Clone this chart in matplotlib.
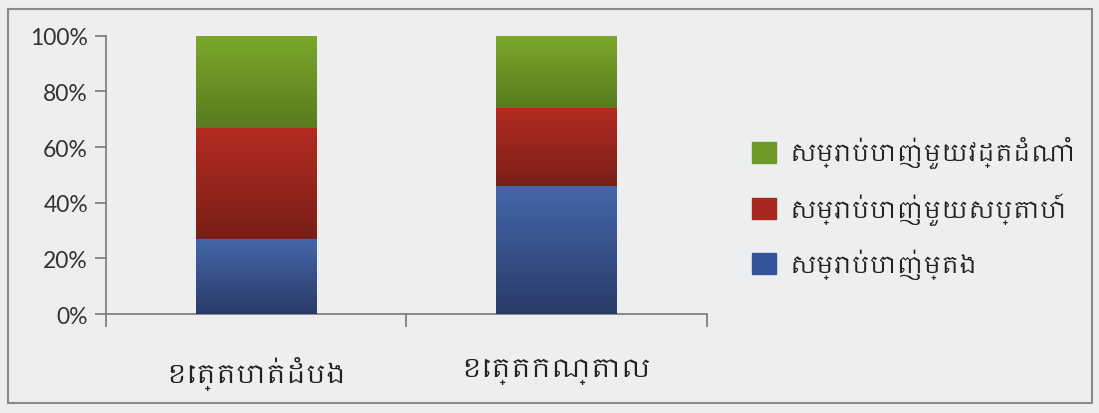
import numpy as np
import matplotlib
matplotlib.use("Agg")
import matplotlib.pyplot as plt
from matplotlib import font_manager
from matplotlib.patches import Rectangle
from matplotlib.colors import LinearSegmentedColormap
from matplotlib.ticker import PercentFormatter

# Data: share of farmers by pesticide spraying frequency, per province
provinces = ["ខេត្តបាត់ដំបង", "ខេត្តកណ្តាល"]
series_labels = ["សម្រាប់បាញ់ម្តង", "សម្រាប់បាញ់មួយសប្តាហ៍", "សម្រាប់បាញ់មួយវដ្តដំណាំ"]
spray_once = [27, 46]
spray_weekly = [40, 28]
spray_per_cycle = [33, 26]
y_ticks = [0, 20, 40, 60, 80, 100]

# Khmer-capable font if one is available, else fall back
khmer_fonts = [f.name for f in font_manager.fontManager.ttflist if "khmer" in f.name.lower()]
text_family = khmer_fonts[:1] + ["Noto Sans", "DejaVu Sans"]

# (top colour, bottom colour) for each stacked series
colours = [("#4467ab", "#2a3b68"), ("#b32b21", "#7a1f17"), ("#7ba82b", "#597b1e")]
legend_colours = ["#35549a", "#a8281f", "#6f9a28"]

fig = plt.figure(figsize=(10.99, 4.14), dpi=100, facecolor="#eceef0")
ax = fig.add_axes([0.0965, 0.239, 0.5465, 0.672])
ax.set_facecolor("#eceef0")

x = np.arange(len(provinces))
bottom = np.zeros(len(provinces))
bar_width = 0.4
for vals, (top_c, bot_c), label in zip([spray_once, spray_weekly, spray_per_cycle],
                                       colours, series_labels):
    bars = ax.bar(x, vals, bar_width, bottom=bottom, color=bot_c, label=label, zorder=2)
    cmap = LinearSegmentedColormap.from_list("grad", [bot_c, top_c])
    grad = np.linspace(0, 1, 64).reshape(-1, 1)
    for patch in bars:
        x0, y0 = patch.get_x(), patch.get_y()
        w, h = patch.get_width(), patch.get_height()
        im = ax.imshow(grad, cmap=cmap, origin="lower", aspect="auto",
                       extent=(x0, x0 + w, y0, y0 + h), zorder=3, interpolation="bilinear")
        im.set_clip_path(patch)
    bottom += np.array(vals)

ax.set_xlim(-0.5, len(provinces) - 0.5)
ax.set_ylim(0, 100)
ax.set_yticks(y_ticks)
ax.yaxis.set_major_formatter(PercentFormatter(decimals=0))

# category boundary ticks on the x axis
ax.set_xticks(np.arange(-0.5, len(provinces)), minor=False)
ax.set_xticklabels([])
ax.set_xticks(x, minor=True)
ax.set_xticklabels(provinces, minor=True, fontsize=19, family=text_family, color="#222222")
ax.tick_params(axis="x", which="minor", length=0, pad=30)
ax.tick_params(axis="x", which="major", length=9, color="#777777", width=1.2)
ax.tick_params(axis="y", length=8, color="#777777", width=1.2, labelsize=16.5,
               labelcolor="#333333", pad=5)
for lbl in ax.get_yticklabels():
    lbl.set_family(["Lato", "DejaVu Sans"])

for side in ["top", "right"]:
    ax.spines[side].set_visible(False)
for side in ["left", "bottom"]:
    ax.spines[side].set_color("#777777")
    ax.spines[side].set_linewidth(1.2)

handles = [Rectangle((0, 0), 1, 1, color=c) for c in legend_colours][::-1]
leg = fig.legend(handles, series_labels[::-1], loc="upper left",
                 bbox_to_anchor=(0.665, 0.72), frameon=False,
                 prop={"family": text_family, "size": 17},
                 handlelength=1.0, handleheight=1.0, handletextpad=0.6,
                 labelspacing=1.0)
for t in leg.get_texts():
    t.set_color("#222222")

# outer frame round the chart
fig.add_artist(Rectangle((8 / 1099, 10 / 414), 1084 / 1099, 394 / 414,
                         transform=fig.transFigure, fill=False,
                         edgecolor="#8a8a8a", linewidth=1.5))

fig.savefig("out.png", dpi=100, facecolor=fig.get_facecolor())
